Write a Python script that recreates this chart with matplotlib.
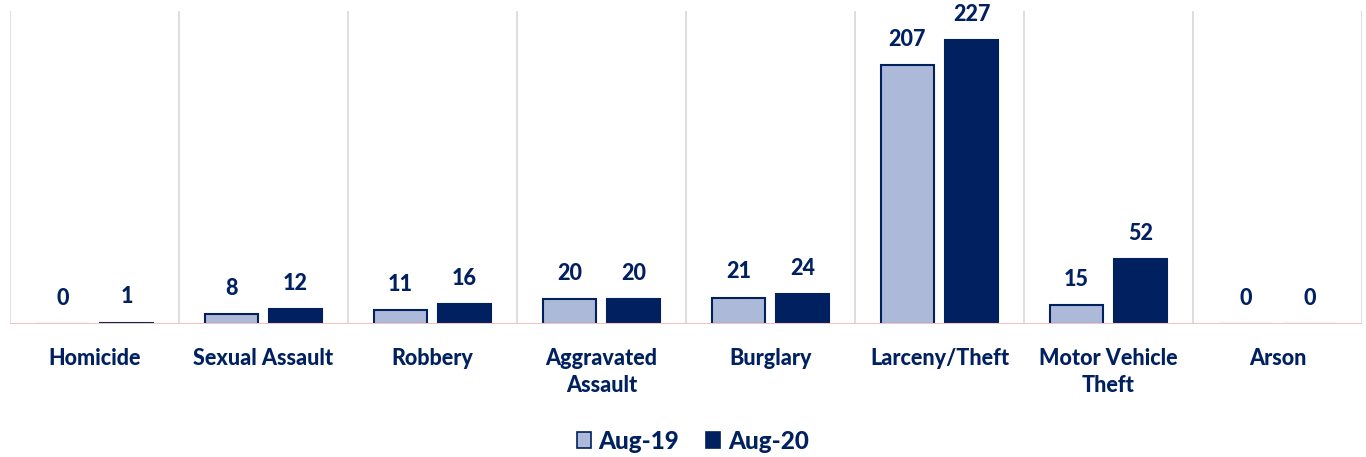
import matplotlib
matplotlib.use("Agg")
import matplotlib.pyplot as plt
from matplotlib.patches import Patch
import numpy as np

categories = ["Homicide", "Sexual Assault", "Robbery", "Aggravated\nAssault",
              "Burglary", "Larceny/Theft", "Motor Vehicle\nTheft", "Arson"]
aug19 = [0, 8, 11, 20, 21, 207, 15, 0]
aug20 = [1, 12, 16, 20, 24, 227, 52, 0]
series_names = ["Aug-19", "Aug-20"]

NAVY = "#002060"
LIGHT = "#adb9d8"
plt.rcParams['font.family'] = ['Lato', 'DejaVu Sans']
WEIGHT = 900

fig = plt.figure(figsize=(13.66, 4.57), dpi=100)
ax = fig.add_axes([10/1366, (457-324)/457, 1352/1366, 313/457])

x = np.arange(len(categories))
w = 0.31
off = 0.19
b1 = ax.bar(x - off, aug19, w, color=LIGHT, edgecolor=NAVY, linewidth=1.5, zorder=3)
b2 = ax.bar(x + off, aug20, w, color=NAVY, edgecolor=NAVY, linewidth=1.5, zorder=3)

for bars, vals in ((b1, aug19), (b2, aug20)):
    for r, v in zip(bars, vals):
        ax.annotate(str(v), (r.get_x() + r.get_width()/2, v), xytext=(0, 11),
                    textcoords="offset points", ha="center", va="bottom",
                    fontsize=15.5, fontweight=WEIGHT, color=NAVY)

ax.set_xlim(-0.5, len(categories) - 0.5)
ax.set_ylim(0, 250)
ax.set_yticks([])
for b in np.arange(-0.5, len(categories), 1.0):
    ax.axvline(b, color="#d9d9d9", linewidth=1.2, zorder=1)
for s in ax.spines.values():
    s.set_visible(False)
ax.axhline(0, color="#f2c4c0", linewidth=1.5, zorder=4)
ax.set_xticks(x)
ax.set_xticklabels(categories, fontsize=15.5, fontweight=WEIGHT, color=NAVY,
                   linespacing=1.35, va="top")
ax.tick_params(axis="x", length=0, pad=17)

handles = [Patch(facecolor=LIGHT, edgecolor=NAVY, linewidth=1.2),
           Patch(facecolor=NAVY, edgecolor=NAVY, linewidth=1.2)]
fig.legend(handles, series_names, loc="center", bbox_to_anchor=(0.507, 0.035),
           ncol=2, frameon=False, prop={"size": 17.5, "weight": WEIGHT},
           labelcolor=NAVY, handlelength=0.6, handleheight=0.6,
           handletextpad=0.3, columnspacing=1.1)

fig.savefig("out.png", dpi=100)
